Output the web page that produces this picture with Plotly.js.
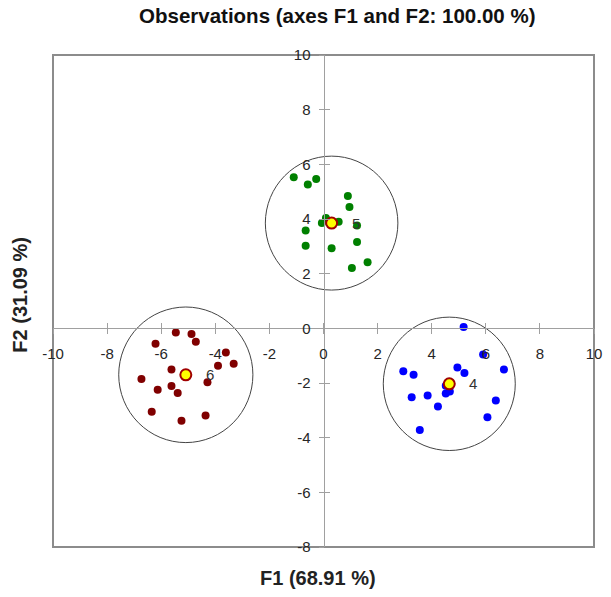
<!DOCTYPE html>
<html>
<head>
<meta charset="utf-8">
<script src="https://cdn.plot.ly/plotly-3.0.1.min.js"></script>
<style>html,body{margin:0;padding:0;background:#fff;}#chart{width:611px;height:597px;}</style>
</head>
<body>
<div id="chart"></div>
<script>
// Class 5 (green) observations
const greenX = [-1.10, -0.58, -0.27, 0.90, 0.96, 0.09, -0.06, 0.56, 1.24, -0.66, -0.66, 0.30, 1.24, 1.63, 1.05];
const greenY = [5.53, 5.26, 5.46, 4.84, 4.44, 4.04, 3.85, 3.90, 3.76, 3.58, 3.02, 2.93, 3.16, 2.42, 2.21];
// Class 6 (dark red) observations
const redX = [-5.46, -4.88, -4.72, -6.21, -3.61, -3.32, -3.90, -5.62, -6.73, -4.29, -5.62, -6.13, -5.39, -6.35, -4.36, -5.25];
const redY = [-0.15, -0.21, -0.49, -0.56, -0.88, -1.30, -1.37, -1.51, -1.85, -1.97, -2.11, -2.25, -2.37, -3.05, -3.19, -3.38];
// Class 4 (blue) observations
const blueX = [5.18, 5.90, 6.67, 2.95, 4.95, 5.21, 3.33, 4.52, 4.67, 4.52, 3.26, 3.85, 6.37, 4.23, 6.06, 3.56];
const blueY = [0.05, -0.96, -1.51, -1.57, -1.43, -1.63, -1.70, -2.10, -2.31, -2.38, -2.52, -2.46, -2.64, -2.86, -3.25, -3.72];
// Class centroids and circle radii
const centroidLabels = ["5", "6", "4"];
const centroidX = [0.30, -5.09, 4.65];
const centroidY = [3.85, -1.70, -2.03];
const circleR = [2.45, 2.48, 2.44];
// Axes
const xTicks = [-10, -8, -6, -4, -2, 0, 2, 4, 6, 8, 10];
const xTickText = ["-10", "-8", "-6", "-4", "-2", "0", "2", "4", "6", "8", "10"];
const yTicks = [-8, -6, -4, -2, 0, 2, 4, 6, 8, 10];
const yTickText = ["-8", "-6", "-4", "-2", "0", "2", "4", "6", "8", "10"];
const xRange = [-10, 10];
const yRange = [-8, 10];

const FONT = "Liberation Sans, Arial, sans-serif";
const tickFont = {family: FONT, size: 15, color: "#262626"};

const traces = [
  {x: greenX, y: greenY, mode: "markers", type: "scatter", marker: {color: "#008000", size: 8}, hoverinfo: "skip"},
  {x: redX, y: redY, mode: "markers", type: "scatter", marker: {color: "#800000", size: 8}, hoverinfo: "skip"},
  {x: blueX, y: blueY, mode: "markers", type: "scatter", marker: {color: "#0000FF", size: 8}, hoverinfo: "skip"},
  {x: centroidX, y: centroidY, mode: "markers", type: "scatter",
   marker: {color: "#FFFF00", size: 11, line: {color: "#A00000", width: 2}}, hoverinfo: "skip"},
  {x: [], y: [], xaxis: "x2", yaxis: "y2", type: "scatter", mode: "markers", hoverinfo: "skip"}
];

const x0 = xRange[0], x1 = xRange[1], y0 = yRange[0], y1 = yRange[1];
const xAxisPos = (0 - y0) / (y1 - y0);
const yAxisPos = (0 - x0) / (x1 - x0);

const shapes = [
  {type: "rect", xref: "paper", yref: "paper", x0: 0, x1: 1, y0: 0, y1: 1, line: {color: "#8c8c8c", width: 2}, layer: "below"}
];
centroidX.forEach((cx, i) => {
  shapes.push({type: "circle", xref: "x", yref: "y", x0: cx - circleR[i], x1: cx + circleR[i],
    y0: centroidY[i] - circleR[i], y1: centroidY[i] + circleR[i], line: {color: "#444", width: 1}, layer: "below"});
});

const annotations = centroidLabels.map((t, i) => ({
  x: centroidX[i], y: centroidY[i], xref: "x", yref: "y", text: t, showarrow: false,
  xshift: 24, font: {family: FONT, size: 15, color: "#333"}
}));
annotations.push({x: 0.49, y: -0.062, xref: "paper", yref: "paper", yanchor: "middle", text: "<b>F1 (68.91 %)</b>", showarrow: false,
  font: {family: FONT, size: 20, color: "#222"}});
annotations.push({x: -0.06, y: 0.512, xref: "paper", yref: "paper", xanchor: "center", text: "<b>F2 (31.09 %)</b>", showarrow: false, textangle: -90,
  font: {family: FONT, size: 20, color: "#222"}});

const axisCommon = {showgrid: false, zeroline: false, showline: true, linecolor: "#a0a0a0", linewidth: 1,
  ticks: "outside", ticklen: 5, tickcolor: "#a0a0a0", tickfont: tickFont, fixedrange: true};

const layout = {
  width: 611, height: 597,
  margin: {l: 53, r: 17, t: 55, b: 50},
  paper_bgcolor: "#fff", plot_bgcolor: "#fff",
  showlegend: false,
  title: {text: "<b>Observations (axes F1 and F2: 100.00 %)</b>", x: 0.552, xanchor: "center", y: 0.973, yanchor: "middle",
    font: {family: FONT, size: 20.5, color: "#111"}},
  xaxis: Object.assign({}, axisCommon, {range: xRange, tickvals: xTicks, ticktext: xTickText, anchor: "free", position: xAxisPos, ticklabelstandoff: 7}),
  yaxis: Object.assign({}, axisCommon, {range: yRange, tickvals: yTicks, ticktext: yTickText, anchor: "free", position: yAxisPos, ticklabelstandoff: 5}),
  xaxis2: {range: xRange, tickvals: xTicks, overlaying: "x", anchor: "free", position: xAxisPos, showgrid: false, zeroline: false,
    showline: false, ticks: "inside", ticklen: 5, tickcolor: "#a0a0a0", showticklabels: false, fixedrange: true},
  yaxis2: {range: yRange, tickvals: yTicks, overlaying: "y", anchor: "free", position: yAxisPos, showgrid: false, zeroline: false,
    showline: false, ticks: "inside", ticklen: 5, tickcolor: "#a0a0a0", showticklabels: false, fixedrange: true},
  shapes: shapes,
  annotations: annotations
};

Plotly.newPlot("chart", traces, layout, {staticPlot: true, displayModeBar: false});
</script>
</body>
</html>
